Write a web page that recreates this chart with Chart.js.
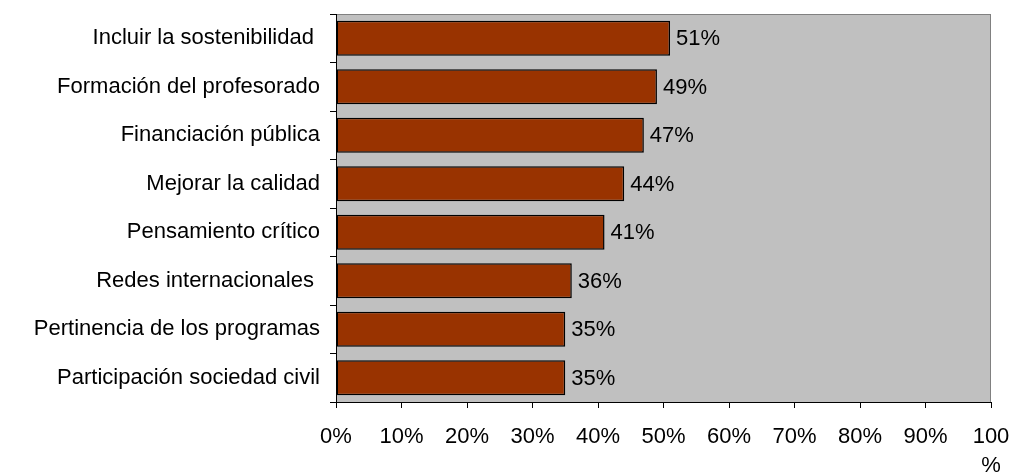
<!DOCTYPE html>
<html>
<head>
<meta charset="utf-8">
<script src="https://cdn.jsdelivr.net/npm/chart.js@4"></script>
<style>
  html, body { margin: 0; padding: 0; background: #fff; }
  #wrap { width: 1013px; height: 473px; }
</style>
</head>
<body>
<div id="wrap"><canvas id="chart" width="1013" height="473"></canvas></div>
<script>
const categories = ['Incluir la sostenibilidad ', 'Formación del profesorado', 'Financiación pública', 'Mejorar la calidad',
  'Pensamiento crítico', 'Redes internacionales ', 'Pertinencia de los programas', 'Participación sociedad civil'];
const values = [51, 49, 47, 44, 41, 36, 35, 35];
const tickLabels = ['0%', '10%', '20%', '30%', '40%', '50%', '60%', '70%', '80%', '90%', ['100', '%']];

const font = { family: "'Liberation Sans', Arial, sans-serif", size: 22, lineHeight: 1.3 };

// grey plot area with a thin grey frame
const plotBg = {
  id: 'plotBg',
  beforeDraw(chart) {
    const { ctx, chartArea: a } = chart;
    ctx.save();
    ctx.fillStyle = '#c0c0c0';
    ctx.fillRect(a.left, a.top, a.right - a.left, a.bottom - a.top);
    ctx.strokeStyle = '#808080';
    ctx.lineWidth = 1;
    ctx.strokeRect(a.left + 0.5, a.top + 0.5, a.right - a.left - 1, a.bottom - a.top);
    ctx.restore();
  }
};

// value labels right of each bar
const valueLabels = {
  id: 'valueLabels',
  afterDatasetsDraw(chart) {
    const { ctx } = chart;
    const meta = chart.getDatasetMeta(0);
    ctx.save();
    ctx.font = font.size + 'px ' + font.family;
    ctx.fillStyle = '#000';
    ctx.textAlign = 'left';
    ctx.textBaseline = 'middle';
    meta.data.forEach((bar, i) => {
      ctx.fillText(values[i] + '%', bar.x + 6, bar.y + 1);
    });
    ctx.restore();
  }
};

new Chart(document.getElementById('chart'), {
  type: 'bar',
  data: {
    labels: categories,
    datasets: [{
      data: values,
      backgroundColor: '#993300',
      borderColor: '#000',
      borderWidth: 1.5,
      borderSkipped: false,
      barPercentage: 0.72,
      categoryPercentage: 1
    }]
  },
  options: {
    indexAxis: 'y',
    responsive: false,
    animation: false,
    layout: { padding: { top: 14, right: 0, left: 0, bottom: 0 } },
    plugins: { legend: { display: false }, tooltip: { enabled: false } },
    scales: {
      x: {
        min: 0, max: 100,
        ticks: {
          stepSize: 10,
          color: '#000',
          font: font,
          padding: 15,
          maxRotation: 0,
          autoSkip: false,
          callback: (v, i) => tickLabels[i]
        },
        grid: { drawOnChartArea: false, drawTicks: true, tickLength: 6, color: '#000' },
        border: { color: '#000', width: 1 },
        afterFit(s) { s.height = 71; s.paddingLeft = 0; s.paddingRight = 22; }
      },
      y: {
        ticks: { color: '#000', font: font, padding: 10 },
        grid: { drawOnChartArea: false, drawTicks: true, tickLength: 6, color: '#000', offset: true },
        border: { color: '#000', width: 1 },
        afterFit(s) { s.width = 336; s.paddingTop = 0; s.paddingBottom = 0; }
      }
    }
  },
  plugins: [plotBg, valueLabels]
});
</script>
</body>
</html>
